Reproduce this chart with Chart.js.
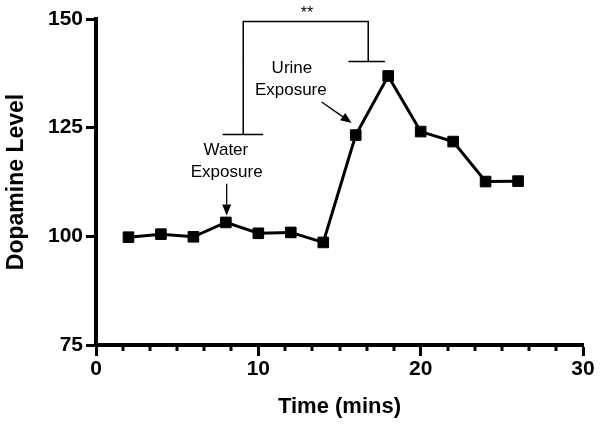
<!DOCTYPE html>
<html>
<head>
<meta charset="utf-8">
<script src="https://cdn.jsdelivr.net/npm/chart.js@4"></script>
<style>
  html, body { margin: 0; padding: 0; background: #fff; }
  #wrap { width: 600px; height: 428px; }
</style>
</head>
<body>
<div id="wrap"><canvas id="c" width="600" height="428"></canvas></div>
<script>
// ---- data ----
const times = [2, 4, 6, 8, 10, 12, 14, 16, 18, 20, 22, 24, 26];
const dopamine = [99.8, 100.5, 99.9, 103.2, 100.7, 100.9, 98.6, 123.3, 136.9, 124.1, 121.8, 112.6, 112.7];
const xTicks = [0, 10, 20, 30];
const yTicks = [75, 100, 125, 150];
const xTitle = 'Time (mins)';
const yTitle = 'Dopamine Level';
const waterLabel = ['Water', 'Exposure'];
const urineLabel = ['Urine', 'Exposure'];
const sigLabel = '**';

const FONT = '"Liberation Sans", Arial, sans-serif';

// minor ticks on the x axis and annotations drawn through the chart's scales
const extras = {
  id: 'extras',
  afterDraw(chart) {
    const ctx = chart.ctx;
    const xs = chart.scales.x, ys = chart.scales.y;
    const X = v => xs.getPixelForValue(v);
    const Y = v => ys.getPixelForValue(v);
    ctx.save();
    // minor ticks
    ctx.strokeStyle = '#000';
    ctx.lineWidth = 3;
    const base = xs.top;
    for (let i = 0; i <= 18; i++) {
      if (i % 6 === 0) continue;
      const px = Math.round(X(i * 10 / 6));
      ctx.beginPath();
      ctx.moveTo(px, base);
      ctx.lineTo(px, base + 6);
      ctx.stroke();
    }
    // significance bracket
    ctx.lineWidth = 1.5;
    ctx.beginPath();
    ctx.moveTo(X(9.07), Y(123.4));
    ctx.lineTo(X(9.07), Y(149.45));
    ctx.lineTo(X(16.77), Y(149.45));
    ctx.lineTo(X(16.77), Y(140.2));
    ctx.moveTo(X(7.8), Y(123.4));
    ctx.lineTo(X(10.3), Y(123.4));
    ctx.moveTo(X(15.55), Y(140.2));
    ctx.lineTo(X(17.8), Y(140.2));
    ctx.stroke();
    // texts
    ctx.fillStyle = '#000';
    ctx.textAlign = 'center';
    ctx.textBaseline = 'middle';
    ctx.font = '16px ' + FONT;
    ctx.fillText(sigLabel, X(13.0), Y(151.2));
    ctx.font = '17px ' + FONT;
    ctx.fillText(waterLabel[0], X(8.0), Y(119.9));
    ctx.fillText(waterLabel[1], X(8.05), Y(114.7));
    ctx.fillText(urineLabel[0], X(12.07), Y(138.7));
    ctx.fillText(urineLabel[1], X(12.0), Y(133.5));
    // arrows
    function arrow(x1, y1, x2, y2) {
      const ang = Math.atan2(y2 - y1, x2 - x1);
      const head = 11, hw = 4.5;
      const bx = x2 - head * Math.cos(ang), by = y2 - head * Math.sin(ang);
      ctx.lineWidth = 1.3;
      ctx.beginPath();
      ctx.moveTo(x1, y1);
      ctx.lineTo(bx, by);
      ctx.stroke();
      ctx.beginPath();
      ctx.moveTo(x2, y2);
      ctx.lineTo(bx + hw * Math.sin(ang), by - hw * Math.cos(ang));
      ctx.lineTo(bx - hw * Math.sin(ang), by + hw * Math.cos(ang));
      ctx.closePath();
      ctx.fill();
    }
    arrow(X(8.05), Y(112.1), X(8.05), Y(104.8));
    arrow(X(13.9), Y(130.9), X(15.75), Y(126.1));
    ctx.restore();
  }
};

new Chart(document.getElementById('c'), {
  type: 'line',
  data: {
    datasets: [{
      data: times.map((t, i) => ({ x: t, y: dopamine[i] })),
      borderColor: '#000',
      backgroundColor: '#000',
      borderWidth: 3,
      tension: 0,
      pointStyle: 'rect',
      pointRadius: 7.5,
      pointBorderWidth: 1,
      pointBackgroundColor: '#000',
      pointBorderColor: '#000',
      clip: false
    }]
  },
  options: {
    responsive: false,
    animation: false,
    events: [],
    layout: { padding: { top: 19, right: 17, left: 0, bottom: 0 } },
    plugins: { legend: { display: false }, tooltip: { enabled: false } },
    scales: {
      x: {
        type: 'linear',
        min: 0, max: 30,
        afterBuildTicks: s => { s.ticks = xTicks.map(v => ({ value: v })); },
        afterFit: s => { s.height = 83; },
        border: { display: true, color: '#000', width: 4 },
        grid: { display: true, drawOnChartArea: false, drawTicks: true, tickLength: 11, tickWidth: 3, tickColor: '#000' },
        ticks: { color: '#000', padding: 1, maxRotation: 0, font: { family: FONT, size: 21, weight: 'bold' } },
        title: { display: true, text: xTitle, color: '#000', padding: { top: 0, bottom: 8 }, font: { family: FONT, size: 22, weight: 'bold' } }
      },
      y: {
        type: 'linear',
        min: 75, max: 150,
        afterBuildTicks: s => { s.ticks = yTicks.map(v => ({ value: v })); },
        afterFit: s => { s.width = 96; },
        border: { display: true, color: '#000', width: 4 },
        grid: { display: true, drawOnChartArea: false, drawTicks: true, tickLength: 10, tickWidth: 3, tickColor: '#000' },
        ticks: { color: '#000', padding: 3, font: { family: FONT, size: 21, weight: 'bold' } },
        title: { display: true, text: yTitle, color: '#000', padding: { top: 3, bottom: 0 }, font: { family: FONT, size: 23, weight: 'bold' } }
      }
    }
  },
  plugins: [extras]
});
</script>
</body>
</html>
